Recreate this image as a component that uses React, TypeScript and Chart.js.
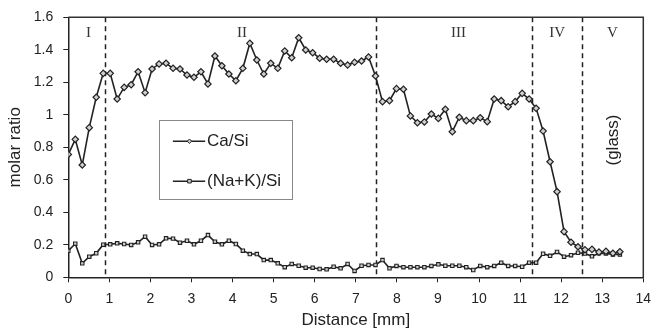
import React, { useEffect, useRef } from 'react';
import { Chart, registerables } from 'chart.js';

Chart.register(...registerables);

// Distance along the profile [mm]
const distance = [
  0, 0.17, 0.34, 0.51, 0.68, 0.85, 1.02, 1.19, 1.36, 1.53,
  1.7, 1.87, 2.04, 2.21, 2.38, 2.55, 2.72, 2.89, 3.06, 3.23,
  3.4, 3.57, 3.74, 3.91, 4.08, 4.25, 4.42, 4.59, 4.76, 4.93,
  5.1, 5.27, 5.44, 5.61, 5.78, 5.95, 6.12, 6.29, 6.46, 6.63,
  6.8, 6.97, 7.14, 7.31, 7.48, 7.65, 7.82, 7.99, 8.16, 8.33,
  8.5, 8.67, 8.84, 9.01, 9.18, 9.35, 9.52, 9.69, 9.86, 10.03,
  10.2, 10.37, 10.54, 10.71, 10.88, 11.05, 11.22, 11.39, 11.56, 11.73,
  11.9, 12.07, 12.24, 12.41, 12.58, 12.75, 12.92, 13.09, 13.26, 13.43,
];

const caSi = [
  0.756, 0.849, 0.691, 0.921, 1.108, 1.255, 1.255, 1.097, 1.169, 1.185,
  1.265, 1.136, 1.282, 1.313, 1.317, 1.286, 1.282, 1.245, 1.231, 1.265,
  1.19, 1.362, 1.302, 1.251, 1.21, 1.286, 1.44, 1.337, 1.251, 1.317,
  1.286, 1.393, 1.351, 1.474, 1.399, 1.382, 1.348, 1.342, 1.342, 1.317,
  1.306, 1.323, 1.331, 1.356, 1.239, 1.081, 1.087, 1.161, 1.157, 0.993,
  0.951, 0.956, 1.005, 0.978, 1.034, 0.896, 0.985, 0.964, 0.964, 0.982,
  0.958, 1.097, 1.087, 1.05, 1.081, 1.132, 1.097, 1.04, 0.9, 0.711,
  0.527, 0.281, 0.216, 0.188, 0.17, 0.172, 0.155, 0.16, 0.148, 0.157,
];

const naKSi = [
  0.163, 0.207, 0.086, 0.127, 0.148, 0.201, 0.203, 0.209, 0.205, 0.199,
  0.215, 0.25, 0.199, 0.203, 0.24, 0.238, 0.213, 0.225, 0.203, 0.225,
  0.26, 0.219, 0.203, 0.225, 0.205, 0.164, 0.143, 0.143, 0.106, 0.106,
  0.086, 0.062, 0.082, 0.071, 0.059, 0.059, 0.051, 0.049, 0.065, 0.055,
  0.082, 0.039, 0.071, 0.076, 0.076, 0.106, 0.055, 0.07, 0.062, 0.062,
  0.062, 0.062, 0.07, 0.08, 0.071, 0.071, 0.071, 0.062, 0.045, 0.07,
  0.062, 0.07, 0.09, 0.07, 0.07, 0.065, 0.09, 0.09, 0.145, 0.132,
  0.156, 0.127, 0.136, 0.151, 0.146, 0.129, 0.148, 0.147, 0.14, 0.14,
];

const seriesNames = ['Ca/Si', '(Na+K)/Si'];
const zoneBoundaries = [0.9, 7.5, 11.3, 12.5];
const zoneLabels = ['I', 'II', 'III', 'IV', 'V'];
const zoneLabelCenters = [0.49, 4.23, 9.5, 11.9, 13.25];

const SANS = '"Liberation Sans", Arial, sans-serif';
const SERIF = '"Liberation Serif", "Times New Roman", serif';
const INK = '#222';

const decorations = {
  id: 'decorations',
  beforeDatasetsDraw(chart: any) {
    const { ctx, chartArea: a, scales } = chart;
    const x = scales.x;
    const y = scales.y;
    ctx.save();
    // dashed zone boundaries
    ctx.strokeStyle = INK;
    ctx.lineWidth = 1.5;
    ctx.setLineDash([5, 4]);
    zoneBoundaries.forEach((b) => {
      const px = Math.round(x.getPixelForValue(b)) + 0.5;
      ctx.beginPath();
      ctx.moveTo(px, a.top);
      ctx.lineTo(px, a.bottom);
      ctx.stroke();
    });
    ctx.setLineDash([]);
    // zone labels
    ctx.fillStyle = '#333';
    ctx.font = `15px ${SERIF}`;
    ctx.textAlign = 'center';
    ctx.textBaseline = 'middle';
    const ly = y.getPixelForValue(1.503);
    zoneLabels.forEach((t, i) => {
      ctx.fillText(t, x.getPixelForValue(zoneLabelCenters[i]), ly);
    });
    // (glass)
    ctx.font = `17px ${SANS}`;
    ctx.fillStyle = INK;
    ctx.translate(x.getPixelForValue(13.27), y.getPixelForValue(0.845));
    ctx.rotate(-Math.PI / 2);
    ctx.fillText('(glass)', 0, 0);
    ctx.restore();
  },
  afterDatasetsDraw(chart: any) {
    const { ctx, chartArea: a, scales } = chart;
    const x = scales.x;
    const y = scales.y;
    ctx.save();
    // legend box
    const bx0 = x.getPixelForValue(2.22);
    const bx1 = x.getPixelForValue(5.47);
    const by0 = y.getPixelForValue(0.965);
    const by1 = y.getPixelForValue(0.48);
    ctx.fillStyle = '#fff';
    ctx.fillRect(bx0, by0, bx1 - bx0, by1 - by0);
    ctx.strokeStyle = '#888';
    ctx.lineWidth = 1;
    ctx.strokeRect(Math.round(bx0) + 0.5, Math.round(by0) + 0.5, Math.round(bx1 - bx0), Math.round(by1 - by0));
    const rows = [by0 + 20.7, by0 + 60.7];
    const styles = ['rectRot', 'rect'];
    rows.forEach((ry, i) => {
      ctx.strokeStyle = INK;
      ctx.lineWidth = 1.5;
      ctx.beginPath();
      ctx.moveTo(bx0 + 13.4, ry);
      ctx.lineTo(bx0 + 45.7, ry);
      ctx.stroke();
      const cx = bx0 + 30;
      ctx.fillStyle = '#ccc';
      ctx.lineWidth = 1;
      ctx.beginPath();
      if (styles[i] === 'rectRot') {
        ctx.moveTo(cx, ry - 2.2);
        ctx.lineTo(cx + 2.2, ry);
        ctx.lineTo(cx, ry + 2.2);
        ctx.lineTo(cx - 2.2, ry);
        ctx.closePath();
      } else {
        ctx.rect(cx - 1.8, ry - 1.8, 3.6, 3.6);
      }
      ctx.fill();
      ctx.stroke();
      ctx.fillStyle = INK;
      ctx.font = `17px ${SANS}`;
      ctx.textAlign = 'left';
      ctx.textBaseline = 'middle';
      ctx.fillText(seriesNames[i], bx0 + 47.5, ry + 0.5);
    });
    // top and right frame
    ctx.strokeStyle = '#333';
    ctx.lineWidth = 1.5;
    ctx.beginPath();
    ctx.moveTo(a.left, a.top);
    ctx.lineTo(a.right, a.top);
    ctx.lineTo(a.right, a.bottom);
    ctx.stroke();
    ctx.restore();
  },
};

export default function App() {
  const canvasRef = useRef<HTMLCanvasElement | null>(null);

  useEffect(() => {
    if (!canvasRef.current) return;
    const pointsOf = (vals: number[]) => distance.map((d, i) => ({ x: d, y: vals[i] }));
    const chart = new Chart(canvasRef.current, {
      type: 'line',
      data: {
        datasets: [
          {
            label: seriesNames[0],
            data: pointsOf(caSi),
            borderColor: INK,
            borderWidth: 1.6,
            pointStyle: 'rectRot',
            pointRadius: 3.2,
            pointBorderWidth: 1.2,
            pointBackgroundColor: '#d0d0d0',
            pointBorderColor: INK,
            tension: 0,
          },
          {
            label: seriesNames[1],
            data: pointsOf(naKSi),
            borderColor: INK,
            borderWidth: 1.6,
            pointStyle: 'rect',
            pointRadius: 2.4,
            pointBorderWidth: 1.1,
            pointBackgroundColor: '#d0d0d0',
            pointBorderColor: INK,
            tension: 0,
          },
        ],
      },
      options: {
        responsive: false,
        animation: false,
        events: [],
        layout: { padding: { left: 0, right: 10.7, top: 17.3, bottom: 0 } },
        plugins: {
          legend: { display: false },
          tooltip: { enabled: false },
        },
        scales: {
          x: {
            type: 'linear',
            min: 0,
            max: 14,
            afterFit: (s: any) => {
              s.height = 51.7;
              s.paddingLeft = 0;
              s.paddingRight = 0;
            },
            ticks: {
              stepSize: 1,
              color: INK,
              font: { family: SANS, size: 14 },
              padding: 8,
              maxRotation: 0,
            },
            grid: { drawOnChartArea: false, drawTicks: true, tickLength: 5, color: INK, lineWidth: 1 },
            border: { display: true, color: INK, width: 1.5 },
            title: {
              display: true,
              text: 'Distance [mm]',
              color: INK,
              font: { family: SANS, size: 17 },
              padding: { top: 0, bottom: -1.5 },
            },
          },
          y: {
            type: 'linear',
            min: 0,
            max: 1.6,
            afterFit: (s: any) => {
              s.width = 68.3;
              s.paddingTop = 0;
              s.paddingBottom = 0;
            },
            ticks: {
              stepSize: 0.2,
              color: INK,
              font: { family: SANS, size: 14 },
              padding: 10,
              callback: (v: any) => String(Math.round(Number(v) * 10) / 10),
            },
            grid: { drawOnChartArea: false, drawTicks: true, tickLength: 5, color: INK, lineWidth: 1 },
            border: { display: true, color: INK, width: 1.5 },
            title: {
              display: true,
              text: 'molar ratio',
              color: INK,
              font: { family: SANS, size: 17 },
              padding: { top: 5, bottom: 0 },
            },
          },
        },
      },
      plugins: [decorations],
    });
    return () => chart.destroy();
  }, []);

  return (
    <div style={{ position: 'absolute', left: 0, top: 0, width: 654, height: 329, background: '#fff' }}>
      <canvas ref={canvasRef} width={654} height={329} style={{ display: 'block' }} />
    </div>
  );
}
